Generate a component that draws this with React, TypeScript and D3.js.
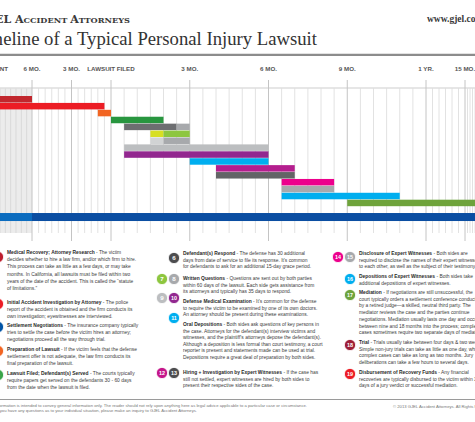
import React from "react";
import * as d3 from "d3";

const W = 475;
const H = 422;

// ---------- timeline axis ----------
const tickMonths = [-14, -6, -3, 0, 3, 6, 9, 12, 15];
const tickLabels = ["ACCIDENT", "6 MO.", "3 MO.", "LAWSUIT FILED", "3 MO.", "6 MO.", "9 MO.", "1 YR.", "15 MO."];

// ---------- bars (months relative to lawsuit filing) ----------
const rowOrder = [1, 2, 4, 5, 6, 7, 8, 9, 10, 11, 12, 13, 14, 15, 16, 17, 18, 3];
const barItem = [1, 2, 4, 5, 6, 6, 7, 7, 8, 8, 9, 10, 11, 12, 13, 14, 15, 16, 17, 18, 3, 3];
const barTone = ["main", "main", "main", "main", "main", "light", "light", "main", "light", "main", "main", "main", "main", "main", "main", "main", "main", "main", "main", "main", "light", "main"];
const barStart = [-14, -14, -1, 0, 0.5, 2.5, 1.5, 2, 1.5, 2, 0.5, 0.5, 3, 4, 4, 6.5, 6.5, 6.5, 9, 19, -14, -6];
const barEnd = [-6, -0.5, 0, 2, 2.5, 3, 2, 3, 2, 3, 6, 6, 6, 7, 7, 8.5, 8.5, 11, 24, 20, -6, 24];

// ---------- legend ----------
const legendNums = [[1], [2], [3], [4], [5], [6], [7, 8], [9, 10], [11], [12, 13], [14, 15], [16], [17], [18], [19]];
const legendTitles = [
  "Medical Recovery; Attorney Research",
  "Initial Accident Investigation by Attorney",
  "Settlement Negotiations",
  "Preparation of Lawsuit",
  "Lawsuit Filed; Defendant(s) Served",
  "Defendant(s) Respond",
  "Written Questions",
  "Defense Medical Examination",
  "Oral Depositions",
  "Hiring + Investigation by Expert Witnesses",
  "Disclosure of Expert Witnesses",
  "Depositions of Expert Witnesses",
  "Mediation",
  "Trial",
  "Disbursement of Recovery Funds",
];
const legendLines = [
  [" - The victim", "decides whether to hire a law firm, and/or which firm to hire.", "This process can take as little as a few days, or may take", "months. In California, all lawsuits must be filed within two", "years of the date of the accident. This is called the \u201cstatute", "of limitations.\u201d"],
  [" - The police", "report of the accident is obtained and the firm conducts its", "own investigation; eyewitnesses are interviewed."],
  [" - The insurance company typically", "tries to settle the case before the victim hires an attorney;", "negotiations proceed all the way through trial."],
  [" - If the victim feels that the defense", "settlement offer is not adequate, the law firm conducts its", "final preparation of the lawsuit."],
  [" - The courts typically", "require papers get served on the defendants 30 - 60 days", "from the date when the lawsuit is filed."],
  [" - The defense has 30 additional", "days from date of service to file its response. It\u2019s common", "for defendants to ask for an additional 15-day grace period."],
  [" - Questions are sent out by both parties", "within 60 days of the lawsuit. Each side gets assistance from", "its attorneys and typically has 35 days to respond."],
  [" - It\u2019s common for the defense", "to require the victim to be examined by one of its own doctors.", "An attorney should be present during these examinations."],
  [" - Both sides ask questions of key persons in", "the case. Attorneys for the defendant(s) interview victims and", "witnesses, and the plaintiff\u2019s attorneys depose the defendant(s).", "Although a deposition is less formal than court testimony, a court", "reporter is present and statements made can be used at trial.", "Depositions require a great deal of preparation by both sides."],
  [" - If the case has", "still not settled, expert witnesses are hired by both sides to", "present their respective sides of the case."],
  [" - Both sides are", "required to disclose the names of their expert witnesses", "to each other, as well as the subject of their testimony."],
  [" - Both sides take", "additional depositions of expert witnesses."],
  [" - If negotiations are still unsuccessful, the", "court typically orders a settlement conference conducted", "by a retired judge\u2014a skilled, neutral third party. The", "mediator reviews the case and the parties continue", "negotiations. Mediation usually lasts one day and occurs", "between nine and 18 months into the process; complex", "cases sometimes require two separate days of mediation."],
  [" - Trials usually take between four days & two weeks.", "Simple non-jury trials can take as little as one day, while", "complex cases can take as long as two months. Jury", "deliberations can take a few hours to several days."],
  [" - Any financial", "recoveries are typically disbursed to the victim within 30", "days of a jury verdict or successful mediation."],
];

const footerLines = [
  "This information is intended to convey general information only. The reader should not rely upon anything here as legal advice applicable to a particular case or circumstance.",
  "If you have any questions as to your individual situation, please make an inquiry to GJEL Accident Attorneys.",
];
const copyright = "\u00a9 2013 GJEL Accident Attorneys. All Rights Reserved.";

// ---------- styles / layout ----------
const mainColor: Record<number, string> = {
  1: "#c1272d", 2: "#ec1c24", 3: "#0b4ea2", 4: "#f26522", 5: "#28963f",
  6: "#6d6e71", 7: "#8dc63f", 8: "#a7a9ac", 9: "#bcbec0", 10: "#92278f",
  11: "#00aeef", 12: "#b41e8e", 13: "#636466", 14: "#ec008c", 15: "#a7a9ac",
  16: "#00aeef", 17: "#6ea33b", 18: "#9e1f37", 19: "#ec1c24",
};
const lightColor: Record<number, string> = { 6: "#a7a9ac", 7: "#d7df23", 8: "#d1d3d4", 3: "#0b6cbf" };
const circleColor: Record<number, string> = {
  ...mainColor, 1: "#be1e2d", 3: "#0054a6", 5: "#39a54a", 6: "#4d4d4f", 12: "#c4168a", 13: "#4d4d4f",
};

const legendCol = [0, 0, 0, 0, 0, 1, 1, 1, 1, 1, 2, 2, 2, 2, 2];
const legendY = [254, 304, 327, 351, 374.5, 255, 280, 303, 326, 374, 255, 278, 294, 344, 374];
const circleY = [257, 304, 327, 351, 375, 258, 279, 298, 318, 373, 257, 279, 295, 345, 374];
const colTextX = [7, 183, 359];
const colCircleX = [-2, 174, 350];
const colLineH = [7.2, 6.6, 6.7];

const SANS = "'Liberation Sans', Arial, sans-serif";
const SERIF = "'Liberation Serif', 'Times New Roman', serif";
const WIDE_SERIF = "'DejaVu Serif', serif";

export default function App() {
  const x = d3
    .scaleLinear()
    .domain([-14, -12, -6, 0, 12, 15, 18, 24])
    .range([-10, 0, 32, 111, 426, 465, 480, 500]);

  const y = d3.scaleBand<number>().domain(rowOrder).range([96, 96 + 6.89 * rowOrder.length]).paddingInner(0.06);

  const minorMonths = [
    ...d3.range(-12, -6, 1),
    ...d3.range(-6, 15, 0.5),
    ...d3.range(15, 19, 0.5),
  ].filter((m) => !tickMonths.includes(m));

  return (
    <div style={{ position: "fixed", left: 0, top: 0 }}>
      <svg width={W} height={H} style={{ display: "block", background: "#fff" }}>
        {/* header */}
        <text x={130} y={22.5} textAnchor="end" fontFamily={WIDE_SERIF} fontWeight="bold" fill="#3a3a3a" fontSize={11}>
          <tspan>GJEL </tspan>
          <tspan>A</tspan>
          <tspan fontSize={8.2}>CCIDENT </tspan>
          <tspan>A</tspan>
          <tspan fontSize={8.2}>TTORNEYS</tspan>
        </text>
        <text x={427} y={21.5} fontFamily={SERIF} fontWeight="bold" fill="#3a3a3a" fontSize={9.5}>
          www.gjel.com
        </text>
        <text x={317} y={44.5} textAnchor="end" fontFamily={SERIF} fill="#333" fontSize={18.7}>
          Timeline of a Typical Personal Injury Lawsuit
        </text>
        <line x1={0} x2={W} y1={54.8} y2={54.8} stroke="#8c8c8c" strokeWidth={2.2} />

        {/* pre-timeline shaded area */}
        <rect x={-20} y={88} width={x(-6) + 20} height={145} fill="#ececec" />

        {/* gridlines */}
        {minorMonths.map((m, i) => (
          <line key={"mn" + i} x1={x(m)} x2={x(m)} y1={88} y2={233} stroke={m < -6 ? "#d9d9d9" : "#e2e2e2"} strokeWidth={1} />
        ))}
        <line x1={0} x2={W} y1={88} y2={88} stroke="#dedede" strokeWidth={1.3} />
        {tickMonths.map((m, i) => (
          <line key={"mj" + i} x1={x(m)} x2={x(m)} y1={80} y2={241} stroke="#c4c4c4" strokeWidth={1} />
        ))}
        {tickMonths.map((m, i) => (
          <text
            key={"tl" + i}
            x={i === 0 ? x(m) + 18 : x(m)}
            y={71}
            textAnchor={i === 0 ? "end" : "middle"}
            fontFamily={SANS}
            fontWeight="bold"
            fontSize={6.2}
            fill="#555"
          >
            {tickLabels[i]}
          </text>
        ))}

        {/* bars */}
        {barItem.map((it, i) => {
          const isBlue = it === 3;
          const by = y(it) as number;
          const h = isBlue ? 8 : y.bandwidth();
          const color = barTone[i] === "light" ? lightColor[it] : mainColor[it];
          return (
            <rect
              key={"b" + i}
              x={x(barStart[i])}
              y={isBlue ? by - 0.5 : by}
              width={x(barEnd[i]) - x(barStart[i])}
              height={h}
              fill={color}
            />
          );
        })}

        {/* legend */}
        {legendNums.map((nums, i) => {
          const c = legendCol[i];
          const tx = colTextX[c];
          const cx = colCircleX[c];
          const lh = colLineH[c];
          const lines = legendLines[i];
          return (
            <g key={"lg" + i}>
              {nums.map((n, k) => {
                const ccx = nums.length === 2 ? cx - 12 + k * 12 : cx;
                return (
                  <g key={"c" + k}>
                    <circle cx={ccx} cy={circleY[i]} r={5.6} fill={circleColor[n]} stroke="#fff" strokeWidth={0.8} />
                    <text
                      x={ccx}
                      y={circleY[i] + 2.1}
                      textAnchor="middle"
                      fontFamily={SANS}
                      fontWeight="bold"
                      fontSize={n >= 10 ? 5.4 : 6.2}
                      fill="#fff"
                    >
                      {n}
                    </text>
                  </g>
                );
              })}
              <text x={tx} y={legendY[i]} fontFamily={SANS} fontSize={4.9} fill="#3c3c3c">
                <tspan fontWeight="bold" fill="#2a2a2a">{legendTitles[i]}</tspan>
                <tspan>{lines[0]}</tspan>
              </text>
              {lines.slice(1).map((ln, k) => (
                <text key={"l" + k} x={tx} y={legendY[i] + lh * (k + 1)} fontFamily={SANS} fontSize={4.9} fill="#3c3c3c">
                  {ln}
                </text>
              ))}
            </g>
          );
        })}

        {/* footer */}
        <line x1={0} x2={W} y1={399.5} y2={399.5} stroke="#9a9a9a" strokeWidth={1} />
        <text x={307} y={406.5} textAnchor="end" fontFamily={SANS} fontSize={4.2} fill="#777">
          {footerLines[0]}
        </text>
        <text x={197} y={412.3} textAnchor="end" fontFamily={SANS} fontSize={4.2} fill="#777">
          {footerLines[1]}
        </text>
        <text x={393} y={408.3} fontFamily={SANS} fontSize={4.2} fill="#777">
          {copyright}
        </text>
      </svg>
    </div>
  );
}
